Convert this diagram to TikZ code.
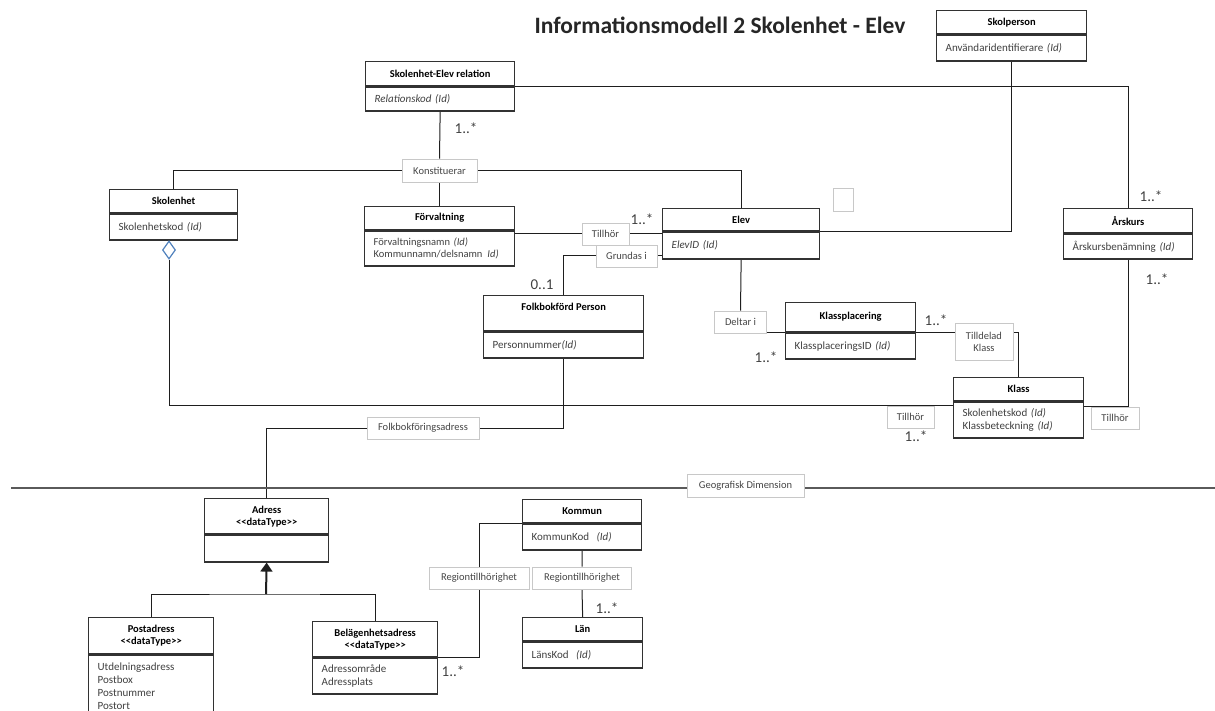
\documentclass[tikz,border=0pt]{standalone}
\usepackage{fontspec}
\setmainfont{Carlito}
\usetikzlibrary{shapes.geometric,arrows.meta,backgrounds}
\definecolor{boxline}{RGB}{50,50,50}
\definecolor{attgray}{RGB}{64,64,64}
\definecolor{lblborder}{RGB}{200,200,200}
\definecolor{lbltext}{RGB}{70,70,70}
\definecolor{linecol}{RGB}{30,30,30}
\definecolor{geogray}{RGB}{90,90,90}
\definecolor{diablue}{RGB}{79,129,189}
\definecolor{titlecol}{RGB}{38,38,38}
\newcommand{\hdfont}{\fontsize{10.5}{12}\selectfont\bfseries}
\newcommand{\attfont}{\fontsize{11}{12.5}\selectfont}
\newcommand{\lblfont}{\fontsize{10.5}{12}\selectfont}
\newcommand{\multfont}{\fontsize{15}{17}\selectfont}
\newcommand{\titlefont}{\fontsize{23.5}{26}\selectfont\bfseries}
\newcommand{\dtype}{<\kern0pt<dataType>\kern0pt>}
\tikzstyle{hd}=[draw=boxline, line width=1.3pt, fill=white, font=\hdfont, align=center, inner sep=0pt, anchor=north west]
\tikzstyle{att}=[draw=boxline, line width=1.3pt, fill=white, font=\attfont, text=attgray, align=left, inner xsep=9pt, inner ysep=0pt, anchor=north west]
\tikzstyle{lbl}=[draw=lblborder, line width=0.7pt, fill=white, font=\lblfont, text=lbltext, align=center, inner sep=0pt]
\tikzstyle{mult}=[font=\multfont, text=attgray, inner sep=0pt]
\tikzstyle{link}=[draw=linecol, line width=1pt]
\tikzstyle{geoline}=[draw=geogray, line width=1.5pt]

\begin{document}
\begin{tikzpicture}[x=1pt, y=-1pt]
    \useasboundingbox (0,0) rectangle (1215,711);
    \node[font=\titlefont, text=titlecol] (title) at (720,25) {Informationsmodell 2 Skolenhet - Elev};

    % classes: header on top, attributes below
    \node[hd, minimum width=150pt, minimum height=23pt] (skolperson) at (936,10) {Skolperson};
    \node[att, text width=132pt, minimum height=26pt] (skolpersonA) at (skolperson.south west) {Användaridentifierare \textit{(Id)}};

    \node[hd, minimum width=149pt, minimum height=24pt] (rel) at (365,61) {Skolenhet-Elev relation};
    \node[att, text width=131pt, minimum height=24pt] (relA) at (rel.south west) {\textit{Relationskod (Id)}};

    \node[hd, minimum width=128pt, minimum height=23pt] (skolenhet) at (109,189) {Skolenhet};
    \node[att, text width=110pt, minimum height=26pt] (skolenhetA) at (skolenhet.south west) {Skolenhetskod \textit{(Id)}};

    \node[hd, minimum width=150pt, minimum height=23pt] (forv) at (364,206) {Förvaltning};
    \node[att, text width=132pt, minimum height=35pt, font=\fontsize{10.5}{12}\selectfont] (forvA) at (forv.south west) {Förvaltningsnamn \textit{(Id)}\\\mbox{Kommunnamn/delsnamn\hspace{5pt}\textit{Id)}}};

    \node[hd, minimum width=157pt, minimum height=22pt] (elev) at (662,208) {Elev};
    \node[att, text width=139pt, minimum height=27pt] (elevA) at (elev.south west) {\textit{ElevID (Id)}};

    \node[hd, minimum width=129pt, minimum height=24pt] (arskurs) at (1063,208) {Årskurs};
    \node[att, text width=111pt, minimum height=25pt] (arskursA) at (arskurs.south west) {Årskursbenämning \textit{(Id)}};

    \node[hd, minimum width=160pt, minimum height=35pt, text height=7pt, text depth=13pt] (folk) at (483,295) {Folkbokförd Person};
    \node[att, text width=142pt, minimum height=26pt] (folkA) at (folk.south west) {Personnummer\textit{(Id)}};

    \node[hd, minimum width=130pt, minimum height=29pt] (kpl) at (785,302) {Klassplacering};
    \node[att, text width=112pt, minimum height=26pt] (kplA) at (kpl.south west) {KlassplaceringsID \textit{(Id)}};

    \node[hd, minimum width=130pt, minimum height=23pt] (klass) at (953,377) {Klass};
    \node[att, text width=112pt, minimum height=36pt] (klassA) at (klass.south west) {Skolenhetskod \textit{(Id)}\\Klassbeteckning \textit{(Id)}};

    \node[hd, minimum width=124pt, minimum height=35pt] (adress) at (204,498) {Adress\\\dtype};
    \node[att, text width=106pt, minimum height=27pt] (adressA) at (adress.south west) {};

    \node[hd, minimum width=125pt, minimum height=36pt] (post) at (88,617) {Postadress\\\dtype};
    \node[att, text width=107pt, minimum height=63pt, font=\fontsize{11}{13}\selectfont] (postA) at (post.south west) {Utdelningsadress\\Postbox\\Postnummer\\Postort};

    \node[hd, minimum width=125pt, minimum height=35pt] (bel) at (312,621) {Belägenhetsadress\\\dtype};
    \node[att, text width=107pt, minimum height=36pt] (belA) at (bel.south west) {Adressområde\\Adressplats};

    \node[hd, minimum width=119pt, minimum height=23pt] (kommun) at (522,499) {Kommun};
    \node[att, text width=101pt, minimum height=26pt] (kommunA) at (kommun.south west) {KommunKod\ \ \textit{(Id)}};

    \node[hd, minimum width=120pt, minimum height=23pt] (lan) at (522,617) {Län};
    \node[att, text width=102pt, minimum height=26pt] (lanA) at (lan.south west) {LänsKod\ \ \textit{(Id)}};

    % association labels
    \node[lbl, minimum width=75pt, minimum height=23pt] (konst) at (439.5,170.5) {Konstituerar};
    \node[lbl, minimum width=47pt, minimum height=22pt] (tillhorF) at (605.5,234) {Tillhör};
    \node[lbl, minimum width=61pt, minimum height=22pt] (grundas) at (626.5,256) {Grundas i};
    \node[lbl, minimum width=52pt, minimum height=22pt] (deltar) at (740.5,322) {Deltar i};
    \node[lbl, minimum width=58pt, minimum height=37pt] (tilldelad) at (984,341.5) {Tilldelad\\Klass};
    \node[lbl, minimum width=47pt, minimum height=22pt] (tillhorS) at (910.5,417) {Tillhör};
    \node[lbl, minimum width=48pt, minimum height=22pt] (tillhorK) at (1115,418) {Tillhör};
    \node[lbl, minimum width=112pt, minimum height=22pt] (folkadr) at (423,428) {Folkbokföringsadress};
    \node[lbl, minimum width=117pt, minimum height=23pt] (geo) at (745.5,485.5) {Geografisk Dimension};
    \node[lbl, minimum width=100pt, minimum height=22pt] (regionA) at (479,578) {Regiontillhörighet};
    \node[lbl, minimum width=99pt, minimum height=22pt] (regionL) at (582,578) {Regiontillhörighet};
    \node[lbl, minimum width=20pt, minimum height=23pt] (blank) at (843,199.5) {};

    \node[diamond, draw=diablue, line width=1.2pt, fill=white, minimum width=13pt, minimum height=18pt, inner sep=0pt] (dia) at (169,250) {};

    % multiplicities
    \node[mult] (mRel) at (466,128) {1..*};
    \node[mult] (mElev) at (642,219) {1..*};
    \node[mult] (mFolk) at (542,285) {0..1};
    \node[mult] (mArsT) at (1151,196) {1..*};
    \node[mult] (mArsB) at (1157,279) {1..*};
    \node[mult] (mKplR) at (936,320) {1..*};
    \node[mult] (mKplL) at (766,357) {1..*};
    \node[mult] (mKlass) at (916,436) {1..*};
    \node[mult] (mLan) at (607,608) {1..*};
    \node[mult] (mBel) at (453,671) {1..*};

    \coordinate (geoL) at (11,488);
    \coordinate (geoR) at (1215,488);
    \coordinate (genJ) at (266,594);

    % connectors, behind the boxes
    \begin{pgfonlayer}{background}
    \draw[link] (relA.south) -- (konst.north);
    \draw[link] (konst.south) -- (konst.south |- forv.north);
    \draw[link] (konst.west) -| (skolenhet.north);
    \draw[link] (konst.east) -| (elev.north);
    \draw[link] (rel.south east) -| (arskurs.north);
    \draw[link] (skolpersonA.south) |- (elev.south east);
    \draw[link] (tillhorF.west -| forvA.east) -- (tillhorF.west);
    \draw[link] (tillhorF.east) -- (tillhorF.east -| elev.west);
    \draw[link] (grundas.east) -- (grundas.east -| elev.west);
    \draw[link] (grundas.west) -| (folk.north);
    \draw[link] (elevA.south) -- (deltar.north);
    \draw[link] (kpl.south west -| deltar.east) -- (kpl.south west);
    \draw[link] (kpl.south east) -- (kpl.south east -| tilldelad.west);
    \draw[link] (tilldelad.east |- kpl.south east) -| (klass.north);
    \draw[link] (dia.south) |- (tillhorS.north -| klass.west);
    \draw[link] (tillhorK.north -| klassA.east) -| (arskursA.south);
    \draw[link] (folkA.south) |- (folkadr.east);
    \draw[link] (folkadr.west) -| (adress.north);
    \draw[geoline] (geoL) -- (geoR);
    \draw[link] (post.north) |- (genJ) -| (bel.north);
    \draw[link, line width=2pt, -{Triangle[width=12pt,length=9pt]}] (genJ) -- (adressA.south);
    \draw[link] (kommun.south west) -| (regionA.north);
    \draw[link] (regionA.south) |- (belA.north east);
    \draw[link] (kommunA.south) -- (regionL.north);
    \draw[link] (regionL.south) -- (lan.north);
    \end{pgfonlayer}
\end{tikzpicture}
\end{document}
